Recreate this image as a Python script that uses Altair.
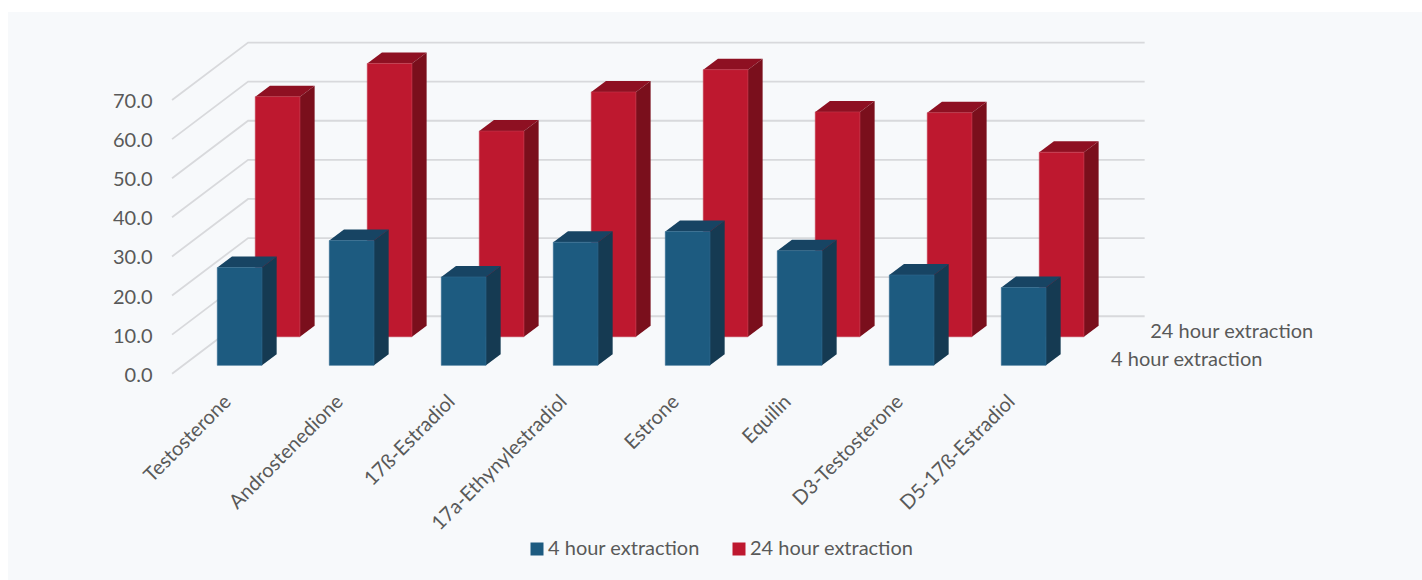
import altair as alt
import pandas as pd

# Recovery per analyte and extraction time
compounds = ["Testosterone", "Androstenedione", "17ß-Estradiol", "17a-Ethynylestradiol",
             "Estrone", "Equilin", "D3-Testosterone", "D5-17ß-Estradiol"]
four_hour = [25.0, 31.9, 22.6, 31.5, 34.2, 29.3, 23.1, 19.9]
twenty_four_hour = [61.4, 69.9, 52.6, 62.6, 68.3, 57.5, 57.3, 47.2]
ticks = [0, 10, 20, 30, 40, 50, 60, 70]
series_names = ["4 hour extraction", "24 hour extraction"]

# Pseudo-3D projection, in scale units: depth moves a point right (x) and up (y)
BAR_W = 0.399
BAR_DX = 0.131
BAR_DY = 2.81
FRONT_LIFT = 2.15
BACK_LIFT = 9.46
BACK_SHIFT = 0.339
WALL_DX = 0.679
WALL_DY = 14.7
FLOOR_X = -0.404
WALL_END_X = 8.28

x_scale = alt.Scale(domain=[-217.3 / 112, (1422 - 217.3) / 112], range=[0, 1422], nice=False, zero=False)
y_scale = alt.Scale(domain=[-52.75, 95.58], range=[580, 0], nice=False, zero=False)
color_scale = alt.Scale(domain=series_names, range=["#1D5B80", "#BE182F"])
FONT = "Lato"
TEXT = "#595959"
FONT_SIZE = 20

# The axis sits above the panel rectangle, so it needs a raised zindex
y_axis = alt.Axis(values=ticks, format=".1f", domain=False, ticks=False, grid=False, title=None,
                  labelFont=FONT, labelFontSize=FONT_SIZE, labelColor=TEXT, labelPadding=0,
                  labelOffset=1.5, offset=-152, zindex=1)


def X(field):
    return alt.X(f"{field}:Q", scale=x_scale, axis=None)


def Y(field):
    return alt.Y(f"{field}:Q", scale=y_scale, axis=y_axis, stack=None, title=None)


def bar_layers(name, values, shift, lift, top_color, side_color, edge):
    front = pd.DataFrame({
        "series": name,
        "cat": range(len(values)),
        "x0": [i + shift for i in range(len(values))],
        "bottom": lift,
        "top": [v + lift for v in values],
    })
    front["x1"] = front.x0 + BAR_W

    side = pd.concat([
        front.assign(px=front.x1, py=front.top, py2=front.bottom),
        front.assign(px=front.x1 + BAR_DX, py=front.top + BAR_DY, py2=front.bottom + BAR_DY),
    ])
    lid = pd.concat([
        front.assign(px=front.x0, px2=front.x1, py=front.top),
        front.assign(px=front.x0 + BAR_DX, px2=front.x1 + BAR_DX, py=front.top + BAR_DY),
    ])

    side_mark = alt.Chart(side).mark_area(orient="vertical", color=side_color).encode(
        x=X("px"), y=Y("py"), y2="py2:Q", detail="cat:N")
    lid_mark = alt.Chart(lid).mark_area(orient="horizontal", color=top_color).encode(
        y=Y("py"), x=X("px"), x2="px2:Q", detail="cat:N")
    face_mark = alt.Chart(front).mark_rect(stroke=edge, strokeWidth=0.6).encode(
        x=X("x0"), x2="x1:Q", y=Y("top"), y2="bottom:Q",
        color=alt.Color("series:N", scale=color_scale, legend=alt.Legend(
            title=None, orient="none", legendX=527, legendY=539, direction="horizontal",
            symbolType="square", symbolSize=169, symbolStrokeWidth=0, labelFont=FONT,
            labelFontSize=FONT_SIZE, labelColor=TEXT, labelOffset=1, columnPadding=29,
            labelLimit=300)))
    return [lid_mark, side_mark, face_mark]


# Panel behind the plot
panel = alt.Chart(pd.DataFrame({"a": [0]})).mark_rect(color="#F7F9FB").encode(
    x=alt.value(8), x2=alt.value(1422), y=alt.value(12), y2=alt.value(580))

# Gridlines run across the floor edge, then along the back wall; the axis labels sit at their front ends
grid_rows = []
for t in ticks:
    grid_rows += [
        {"tick": t, "gx": FLOOR_X, "gy": t},
        {"tick": t, "gx": FLOOR_X + WALL_DX, "gy": t + WALL_DY},
        {"tick": t, "gx": WALL_END_X, "gy": t + WALL_DY},
    ]
grid = alt.Chart(pd.DataFrame(grid_rows)).mark_line(color="#D8D9DC", strokeWidth=1.8).encode(
    x=X("gx"), y=Y("gy"), detail="tick:N", order="gx:Q")

# Compound names under the bars
names = alt.Chart(pd.DataFrame({
    "name": compounds,
    "nx": [i + 0.095 for i in range(len(compounds))],
    "ny": -6.4,
})).mark_text(angle=315, align="right", baseline="middle", font=FONT, fontSize=FONT_SIZE, color=TEXT).encode(
    x=X("nx"), y=Y("ny"), text="name:N")

# Series names on the depth axis
depth_labels = alt.Chart(pd.DataFrame({
    "name": series_names,
    "nx": [7.98, 8.33],
    "ny": [3.4, 10.8],
})).mark_text(align="left", baseline="middle", font=FONT, fontSize=FONT_SIZE, color=TEXT).encode(
    x=X("nx"), y=Y("ny"), text="name:N")

back = bar_layers(series_names[1], twenty_four_hour, BACK_SHIFT, BACK_LIFT, "#8E1022", "#7A0F1C", "#C23A4E")
front = bar_layers(series_names[0], four_hour, 0, FRONT_LIFT, "#174463", "#153A52", "#2F6A8E")

chart = alt.layer(panel, grid, *back, *front, names, depth_labels).properties(
    width=1422, height=580, padding=0, autosize="none", background="#FFFFFF"
).configure_view(stroke=None)

chart.save("out.html", embed_options={"renderer": "svg", "actions": False})
